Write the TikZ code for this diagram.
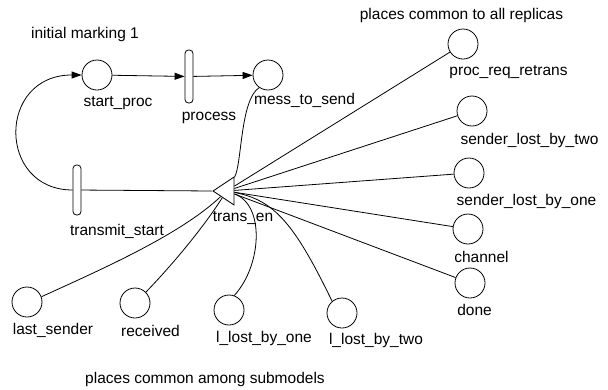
\documentclass[tikz,border=0pt]{standalone}
\usepackage{fontspec}
\setmainfont{Liberation Sans}
\usetikzlibrary{shapes.geometric,arrows.meta}

\begin{document}
\begin{tikzpicture}[x=1pt,y=-1pt,line width=0.8pt,
    place/.style={circle,draw,minimum size=30pt,inner sep=0pt},
    trans/.style={draw,rounded corners=3.5pt,minimum width=8pt,inner sep=0pt},
    lbl/.style={font=\fontsize{15.5}{18}\selectfont,inner sep=0pt},
    arc/.style={-{Triangle[length=10pt,width=7pt]}}]
        \useasboundingbox (0,0) rectangle (608,389);

        \node[place] (sp) at (97,75) {};
        \node[place] (ms) at (268,75) {};
        \node[place] (prr) at (463,44) {};
        \node[place] (slt) at (472,111) {};
        \node[place] (slo) at (469,173) {};
        \node[place] (ch) at (468,229) {};
        \node[place] (dn) at (470,283) {};
        \node[place] (llt) at (342,313) {};
        \node[place] (llo) at (229,310) {};
        \node[place] (rc) at (135,303) {};
        \node[place] (ls) at (27,302) {};

        \node[trans,minimum height=53pt] (pr) at (189,76.5) {};
        \node[trans,minimum height=50pt] (ts) at (77,190) {};
        \node[draw,isosceles triangle,isosceles triangle stretches,shape border rotate=180,
            minimum width=28pt,minimum height=21pt,inner sep=0pt,anchor=apex] (ten) at (212,191) {};

        \node[lbl] (tinit) at (85,34) {initial marking 1};
        \node[lbl] (tsp) at (118,103) {start\_proc};
        \node[lbl] (tpr) at (209,118) {process};
        \node[lbl] (tms) at (304.5,100) {mess\_to\_send};
        \node[lbl] (tts) at (117,231) {transmit\_start};
        \node[lbl] (tten) at (243,218) {trans\_en};
        \node[lbl] (tls) at (53,330) {last\_sender};
        \node[lbl] (trc) at (150.5,331) {received};
        \node[lbl] (tllo) at (264,338) {l\_lost\_by\_one};
        \node[lbl] (tllt) at (376,340) {l\_lost\_by\_two};
        \node[lbl] (tdn) at (474.5,310) {done};
        \node[lbl] (tch) at (481.5,257) {channel};
        \node[lbl] (tslo) at (526.5,201) {sender\_lost\_by\_one};
        \node[lbl] (tslt) at (529.5,140) {sender\_lost\_by\_two};
        \node[lbl] (tprr) at (508.5,72) {proc\_req\_retrans};
        \node[lbl] (tall) at (461.5,15) {places common to all replicas};
        \node[lbl] (tsub) at (205,379) {places common among submodels};

        \draw[arc] (sp) -- (pr);
        \draw[arc] (pr) -- (ms);
        \draw[arc] (ts.west) .. controls (-3,190) and (-3,75) .. (sp.west);
        \draw (ten.apex) -- (ts);
        \draw (ms.235) .. controls (240,100) and (242,165) .. (ten.60);

        \draw (ten) -- (prr);
        \draw (ten) -- (slt);
        \draw (ten) -- (slo);
        \draw (ten) -- (ch);
        \draw (ten) -- (dn);
        \draw (ten) .. controls (275,200) and (295,225) .. (llt.130);
        \draw (ten) .. controls (265,205) and (262,265) .. (llo.70);
        \draw (ten) .. controls (205,225) and (175,262) .. (rc.45);
        \draw (ten) .. controls (180,235) and (100,270) .. (ls.20);
    \end{tikzpicture}
\end{document}
